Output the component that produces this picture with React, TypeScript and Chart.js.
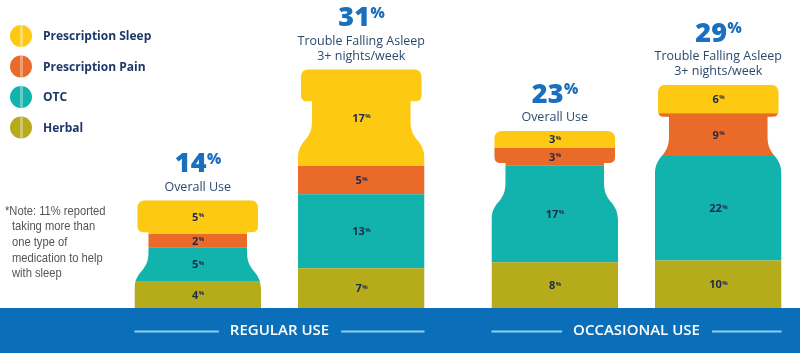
import React, { useEffect, useRef } from "react";
import { Chart, registerables } from "chart.js";

Chart.register(...registerables);

// ---------- data ----------
const categories = ["REGULAR USE", "OCCASIONAL USE"];
const groupKeys = ["overall", "trouble"];
const groupSubtitles = [["Overall Use"], ["Trouble Falling Asleep", "3+ nights/week"]];
const overallTotals = [14, 23];
const troubleTotals = [31, 29];

// segments, bottom to top
const segmentNames = ["Herbal", "OTC", "Prescription Pain", "Prescription Sleep"];
const segmentColors = ["#b5ab1b", "#12b3ad", "#e96a29", "#fdc913"];

const overallHerbal = [4, 8];
const overallOTC = [5, 17];
const overallPain = [2, 3];
const overallSleep = [5, 3];

const troubleHerbal = [7, 10];
const troubleOTC = [13, 22];
const troublePain = [5, 9];
const troubleSleep = [17, 6];

const noteLines = [
  "*Note: 11% reported",
  "taking more than",
  "one type of",
  "medication to help",
  "with sleep",
];

// ---------- derived ----------
const groupSegments = [
  [overallHerbal, overallOTC, overallPain, overallSleep],
  [troubleHerbal, troubleOTC, troublePain, troubleSleep],
];
const groupTotals = [overallTotals, troubleTotals];

function scaledSegments(g: number): number[][] {
  const segs = groupSegments[g];
  const totals = groupTotals[g];
  return segs.map((arr) =>
    arr.map((v, c) => {
      const sum = segs.reduce((s, a) => s + a[c], 0);
      return (v * totals[c]) / sum;
    })
  );
}

const datasets: any[] = [];
groupKeys.forEach((key, g) => {
  const scaled = scaledSegments(g);
  segmentNames.forEach((name, i) => {
    datasets.push({
      label: name,
      data: scaled[i],
      raw: groupSegments[g][i],
      stack: key,
      groupIndex: g,
      backgroundColor: segmentColors[i],
      borderWidth: 0,
      categoryPercentage: 0.916,
      barPercentage: 0.774,
    });
  });
});

// ---------- drawing helpers ----------
const NAVY = "#1c2a4d";
const TITLE_BLUE = "#1a6fbe";
const SUB_COLOR = "#2d4a6e";
const BAND = "#0a6fb8";
const BAND_LINE = "#8dd0f5";
const TICK_FONT = { family: "'Open Sans', sans-serif", weight: "600", size: 15, lineHeight: 3 };
const TICK_PAD = 0;

function bottlePath(ctx: CanvasRenderingContext2D, cx: number, w: number, top: number, bottom: number) {
  const x0 = cx - w / 2;
  const x1 = cx + w / 2;
  const ci = 3, r = 8, capH = 32, ni = 14, neckH = 20, shH = 38, rb = 6;
  const cl = x0 + ci, cr = x1 - ci;
  const nl = x0 + ni, nr = x1 - ni;
  const yCapB = top + capH;
  const yNeckB = yCapB + neckH;
  const yBody = yNeckB + shH;
  ctx.moveTo(cl + r, top);
  ctx.lineTo(cr - r, top);
  ctx.quadraticCurveTo(cr, top, cr, top + r);
  ctx.lineTo(cr, yCapB - rb);
  ctx.quadraticCurveTo(cr, yCapB, cr - rb, yCapB);
  ctx.lineTo(nr, yCapB);
  ctx.lineTo(nr, yNeckB);
  ctx.bezierCurveTo(nr, yNeckB + shH * 0.55, x1, yNeckB + shH * 0.45, x1, yBody);
  ctx.lineTo(x1, bottom);
  ctx.lineTo(x0, bottom);
  ctx.lineTo(x0, yBody);
  ctx.bezierCurveTo(x0, yNeckB + shH * 0.45, nl, yNeckB + shH * 0.55, nl, yNeckB);
  ctx.lineTo(nl, yCapB);
  ctx.lineTo(cl + rb, yCapB);
  ctx.quadraticCurveTo(cl, yCapB, cl, yCapB - rb);
  ctx.lineTo(cl, top + r);
  ctx.quadraticCurveTo(cl, top, cl + r, top);
  ctx.closePath();
}

function drawPercent(
  ctx: CanvasRenderingContext2D,
  value: string,
  cx: number,
  baseline: number,
  bigSize: number,
  smallSize: number,
  color: string,
  family: string,
  weight: string
) {
  ctx.save();
  ctx.fillStyle = color;
  ctx.textBaseline = "alphabetic";
  ctx.textAlign = "left";
  const bigFont = `${weight} ${bigSize}px ${family}`;
  const smallFont = `${weight} ${smallSize}px ${family}`;
  ctx.font = bigFont;
  const wb = ctx.measureText(value).width;
  ctx.font = smallFont;
  const ws = ctx.measureText("%").width;
  const x = cx - (wb + ws) / 2;
  ctx.font = bigFont;
  ctx.fillText(value, x, baseline);
  ctx.font = smallFont;
  ctx.fillText("%", x + wb + 0.5, baseline - (bigSize - smallSize) * 0.72);
  ctx.restore();
}

function stackElements(chart: any, g: number, c: number) {
  const els: any[] = [];
  chart.data.datasets.forEach((ds: any, k: number) => {
    if (ds.groupIndex === g) els.push({ el: chart.getDatasetMeta(k).data[c], ds });
  });
  return els; // bottom to top
}

const bottlePlugin = {
  id: "bottlePlugin",
  beforeDraw(chart: any) {
    const { ctx, chartArea, width, height } = chart;
    ctx.save();
    ctx.fillStyle = BAND;
    ctx.fillRect(0, chartArea.bottom, width, height - chartArea.bottom);
    ctx.restore();
  },
  beforeDatasetsDraw(chart: any) {
    const ctx = chart.ctx;
    ctx.save();
    ctx.beginPath();
    groupKeys.forEach((_, g) => {
      categories.forEach((_, c) => {
        const els = stackElements(chart, g, c);
        const bottomEl = els[0].el;
        const topEl = els[els.length - 1].el;
        bottlePath(ctx, bottomEl.x, bottomEl.width, topEl.y, bottomEl.base);
      });
    });
    ctx.clip();
  },
  afterDatasetsDraw(chart: any) {
    const ctx = chart.ctx;
    ctx.restore();
    const family = "'Open Sans', sans-serif";

    // in-bar values and titles
    groupKeys.forEach((_, g) => {
      categories.forEach((_, c) => {
        const els = stackElements(chart, g, c);
        els.forEach(({ el, ds }) => {
          const mid = (el.y + el.base) / 2;
          drawPercent(ctx, String(ds.raw[c]), el.x, mid + 4, 11, 6, NAVY, family, "700");
        });
        const topEl = els[els.length - 1].el;
        const cx = topEl.x;
        const lines = groupSubtitles[g];
        const lastCenter = topEl.y - 13;
        ctx.save();
        ctx.fillStyle = SUB_COLOR;
        ctx.font = `400 12.5px ${family}`;
        ctx.textAlign = "center";
        ctx.textBaseline = "middle";
        lines.forEach((line, i) => {
          const yy = lastCenter - (lines.length - 1 - i) * 15;
          ctx.fillText(line, cx, yy);
        });
        ctx.restore();
        const firstCenter = lastCenter - (lines.length - 1) * 15;
        drawPercent(ctx, String(groupTotals[g][c]), cx, firstCenter - 15, 27, 15, TITLE_BLUE, family, "800");
      });
    });
  },
  afterDraw(chart: any) {
    const ctx = chart.ctx;
    const xScale = chart.scales.x;
    const family = "'Open Sans', sans-serif";
    // band lines beside category labels
    const lineY = (xScale.top + xScale.bottom) / 2 + 1;
    ctx.save();
    ctx.font = `${TICK_FONT.weight} ${TICK_FONT.size}px ${TICK_FONT.family}`;
    ctx.strokeStyle = BAND_LINE;
    ctx.lineWidth = 2;
    categories.forEach((label, c) => {
      const left = stackElements(chart, 0, c)[0].el;
      const right = stackElements(chart, 1, c)[0].el;
      const tx = xScale.getPixelForTick(c);
      const tw = ctx.measureText(label).width;
      ctx.beginPath();
      ctx.moveTo(left.x - left.width / 2, lineY);
      ctx.lineTo(tx - tw / 2 - 11, lineY);
      ctx.moveTo(tx + tw / 2 + 12, lineY);
      ctx.lineTo(right.x + right.width / 2, lineY);
      ctx.stroke();
    });
    ctx.restore();

    // legend
    ctx.save();
    const order = [3, 2, 1, 0];
    order.forEach((i, row) => {
      const cy = 36 + row * 30.5;
      const cx = 21;
      ctx.save();
      ctx.beginPath();
      ctx.arc(cx, cy, 11, 0, Math.PI * 2);
      ctx.fillStyle = segmentColors[i];
      ctx.fill();
      ctx.clip();
      ctx.fillStyle = "rgba(255,255,255,0.35)";
      ctx.fillRect(cx - 1, cy - 12, 3, 24);
      ctx.restore();
      ctx.fillStyle = "#1c3768";
      ctx.font = `700 12px ${family}`;
      ctx.textAlign = "left";
      ctx.textBaseline = "middle";
      ctx.fillText(segmentNames[i], 43, cy + 1);
    });
    ctx.restore();

    // note (narrowed sans)
    ctx.save();
    ctx.fillStyle = "#555555";
    ctx.font = `400 13px 'Liberation Sans', Arial, sans-serif`;
    ctx.textAlign = "left";
    ctx.textBaseline = "middle";
    const sx = 0.86;
    ctx.scale(sx, 1);
    noteLines.forEach((line, i) => {
      ctx.fillText(line, (i === 0 ? 5 : 12) / sx, 211 + i * 15.7);
    });
    ctx.restore();
  },
};

export default function App() {
  const canvasRef = useRef<HTMLCanvasElement | null>(null);

  useEffect(() => {
    if (!canvasRef.current) return;
    const chart = new Chart(canvasRef.current, {
      type: "bar",
      data: { labels: categories, datasets },
      options: {
        responsive: false,
        animation: false,
        layout: { padding: { left: 101, right: 0, top: 0, bottom: 0 } },
        plugins: {
          legend: { display: false },
          tooltip: { enabled: false },
          title: { display: false },
        },
        scales: {
          x: {
            stacked: true,
            grid: { display: false, drawTicks: false },
            border: { display: false },
            ticks: {
              color: "#ffffff",
              font: TICK_FONT as any,
              padding: TICK_PAD,
              maxRotation: 0,
              autoSkip: false,
            },
          },
          y: {
            stacked: true,
            display: false,
            min: 0,
            max: 40,
          },
        },
      },
      plugins: [bottlePlugin],
    });
    return () => chart.destroy();
  }, []);

  return (
    <div
      style={{
        position: "fixed",
        left: 0,
        top: 0,
        width: 800,
        height: 353,
        overflow: "hidden",
        background: "#ffffff",
      }}
    >
      <canvas ref={canvasRef} width={815} height={353} style={{ display: "block" }} />
    </div>
  );
}
